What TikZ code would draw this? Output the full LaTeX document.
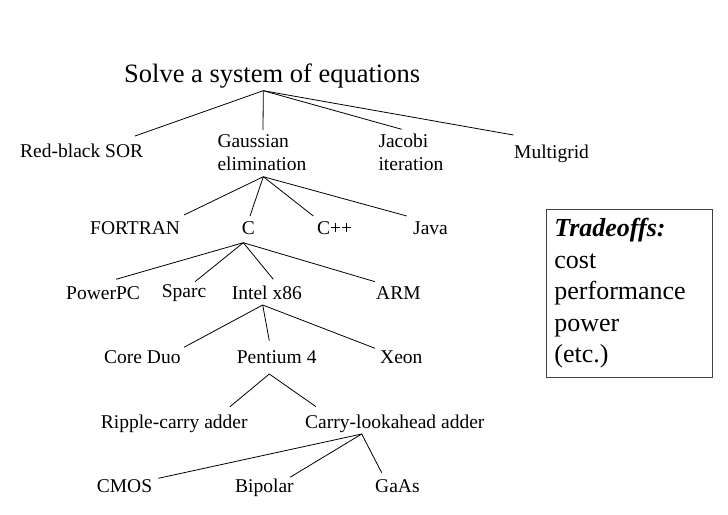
\documentclass[tikz,border=0pt]{standalone}
\usepackage{fontspec}
\setmainfont{Liberation Serif}
\newcommand\treefont{\fontsize{19.5}{22.3}\selectfont}
\newcommand\titlefont{\fontsize{26.5}{30}\selectfont}
\newcommand\boxfont{\fontsize{26}{31.5}\selectfont}
\begin{document}
\begin{tikzpicture}[x=1pt,y=-1pt,
  lbl/.style={font=\treefont, inner sep=0pt, anchor=base west},
  conn/.style={line width=0.8pt, black}]
\useasboundingbox (0,0) rectangle (728,514);
% title
\node[lbl, font=\titlefont] (title) at (124,82) {Solve a system of equations};
\coordinate (title-b) at ([shift={(139.3,8.7)}]title.base west);
% row 1 (multi-line nodes: base anchor is on the last line)
\node[lbl] (rb) at (20,157.3) {Red-black SOR};
\node[lbl, align=left] (gauss) at (217.3,170) {Gaussian\\elimination};
\node[lbl, align=left] (jac) at (378.3,170) {Jacobi\\iteration};
\node[lbl] (mg) at (514,158) {Multigrid};
\coordinate (gauss-b) at ([shift={(46,6.7)}]gauss.base west);
\draw[conn] (title-b) -- ([shift={(115,-21.3)}]rb.base west);
\draw[conn] (title-b) -- ([shift={(45.7,-40)}]gauss.base west);
\draw[conn] (title-b) -- ([shift={(23.4,-40.7)}]jac.base west);
\draw[conn] (title-b) -- ([shift={(-0.7,-23)}]mg.base west);
% row 2
\node[lbl] (fortran) at (90,234.5) {FORTRAN};
\node[lbl] (c) at (241.7,234.5) {C};
\node[lbl] (cpp) at (317,234.5) {C++};
\node[lbl] (java) at (413,234.5) {Java};
\coordinate (c-b) at ([shift={(1.6,8.2)}]c.base west);
\draw[conn] (gauss-b) -- ([shift={(94,-19.5)}]fortran.base west);
\draw[conn] (gauss-b) -- ([shift={(8.3,-18.5)}]c.base west);
\draw[conn] (gauss-b) -- ([shift={(-3.7,-18.5)}]cpp.base west);
\draw[conn] (gauss-b) -- ([shift={(-6.3,-18.5)}]java.base west);
% row 3
\node[lbl] (ppc) at (66,299.3) {PowerPC};
\node[lbl] (sparc) at (161.7,297.3) {Sparc};
\node[lbl] (intel) at (231.7,299.3) {Intel x86};
\node[lbl] (arm) at (376,299.3) {ARM};
\coordinate (intel-b) at ([shift={(31,5.7)}]intel.base west);
\draw[conn] (c-b) -- ([shift={(50,-20)}]ppc.base west);
\draw[conn] (c-b) -- ([shift={(33.3,-15.6)}]sparc.base west);
\draw[conn] (c-b) -- ([shift={(41.6,-20)}]intel.base west);
\draw[conn] (c-b) -- ([shift={(-1,-17.6)}]arm.base west);
% row 4
\node[lbl] (coreduo) at (104,363.3) {Core Duo};
\node[lbl] (pent) at (236.7,363.3) {Pentium 4};
\node[lbl] (xeon) at (380,363.3) {Xeon};
\coordinate (pent-b) at ([shift={(32.6,10.7)}]pent.base west);
\draw[conn] (intel-b) -- ([shift={(80,-16)}]coreduo.base west);
\draw[conn] (intel-b) -- ([shift={(32.6,-22.6)}]pent.base west);
\draw[conn] (intel-b) -- ([shift={(-5,-15)}]xeon.base west);
% row 5
\node[lbl] (ripple) at (100.7,428.3) {Ripple-carry adder};
\node[lbl] (cla) at (305,428.3) {Carry-lookahead adder};
\coordinate (cla-b) at ([shift={(56.7,5.7)}]cla.base west);
\draw[conn] (pent-b) -- ([shift={(129.3,-21.6)}]ripple.base west);
\draw[conn] (pent-b) -- ([shift={(11,-21.6)}]cla.base west);
% row 6
\node[lbl] (cmos) at (96.7,492.7) {CMOS};
\node[lbl] (bipolar) at (235,492.7) {Bipolar};
\node[lbl] (gaas) at (375,492.7) {GaAs};
\draw[conn] (cla-b) -- ([shift={(61.6,-14.4)}]cmos.base west);
\draw[conn] (cla-b) -- ([shift={(55,-15.4)}]bipolar.base west);
\draw[conn] (cla-b) -- ([shift={(6.7,-20)}]gaas.base west);
% tradeoffs box
\node[draw=black!75, line width=0.8pt, anchor=north west, inner xsep=8pt, inner ysep=0pt,
  text width=150pt, minimum height=168pt, align=left, font=\boxfont] (trade) at (546,209)
  {\textbf{\textit{Tradeoffs:}}\\cost\\performance\\power\\(etc.)};
\end{tikzpicture}
\end{document}
